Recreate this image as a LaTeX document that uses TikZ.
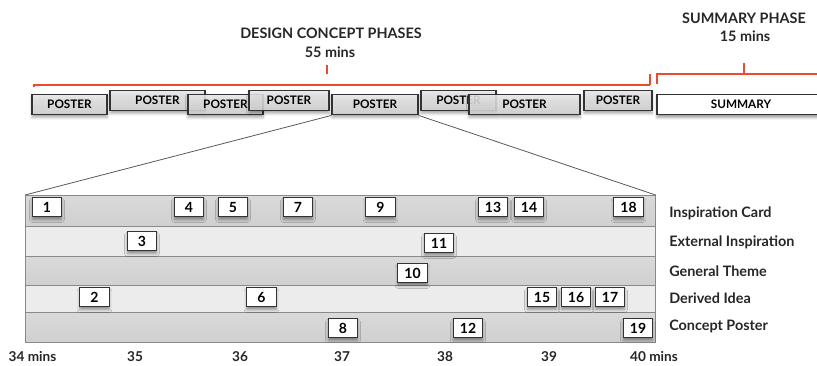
\documentclass[tikz,border=0pt]{standalone}
\usepackage{fontspec}
\setmainfont{Lato}
\usetikzlibrary{shadows,shadows.blur}
\definecolor{bracketred}{HTML}{EC4A2E}
\definecolor{boxline}{HTML}{333333}
\definecolor{rowdark}{HTML}{D0D0D0}
\definecolor{rowlight}{HTML}{ECECEC}
\definecolor{panelline}{HTML}{8A8A8A}
\tikzset{
  bracket/.style={draw=bracketred, line width=1.5pt},
  posterbox/.style={draw=boxline, line width=0.9pt, top color=white!93!black, bottom color=white!84!black,
    fill opacity=0.85, text opacity=1, minimum height=15.5pt, inner sep=0pt,
    font=\bfseries\fontsize{8.8}{10}\selectfont, blur shadow={shadow xshift=0pt, shadow yshift=-2pt, shadow blur steps=5, shadow opacity=40}},
  summarybox/.style={draw=boxline, line width=0.9pt, fill=white, minimum height=15.5pt, inner sep=0pt,
    font=\bfseries\fontsize{8.8}{10}\selectfont, blur shadow={shadow xshift=0pt, shadow yshift=-2pt, shadow blur steps=5, shadow opacity=40}},
  numbox/.style={draw=boxline, line width=0.9pt, fill=white, minimum width=22pt, minimum height=14pt, inner sep=0pt,
    font=\bfseries\fontsize{10.5}{11}\selectfont, blur shadow={shadow xshift=0pt, shadow yshift=-2.5pt, shadow blur steps=5, shadow opacity=40}},
  rowdk/.style={draw=panelline, line width=0.5pt, top color=rowdark!80!white, bottom color=rowdark, minimum width=472.5pt, inner sep=0pt, anchor=north west},
  rowlt/.style={draw=panelline, line width=0.5pt, fill=rowlight, minimum width=472.5pt, inner sep=0pt, anchor=north west},
  rowlabel/.style={anchor=west, inner sep=0pt, font=\bfseries\fontsize{10.8}{12}\selectfont, text=black!85},
  timelabel/.style={inner sep=0pt, font=\bfseries\fontsize{10.2}{12}\selectfont, text=black!85},
  title/.style={inner sep=0pt, font=\bfseries\fontsize{10.8}{12}\selectfont, text=black!85},
  zoomline/.style={draw=black!65, line width=0.6pt},
}
\begin{document}
\begin{tikzpicture}[x=0.75pt, y=-0.75pt]
\useasboundingbox (0,0) rectangle (817,365);
% titles
\node[title] (t1) at (331,33.5) {DESIGN CONCEPT PHASES};
\node[title] (t1b) at (330,52) {55 mins};
\node[title] (t2) at (744,18) {SUMMARY PHASE};
\node[title] (t2b) at (745,36) {15 mins};
% brackets
\coordinate (bl) at (34,87);
\coordinate (br) at (650,85);
\coordinate (bm) at (327,65);
\draw[bracket] (bl) |- (br);
\draw[bracket] (br) -- (650,74);
\draw[bracket] (bm) -- (327,74);
\coordinate (sl) at (657,84);
\coordinate (sr) at (820,74);
\coordinate (sm) at (744,63);
\draw[bracket] (sl) |- (sr);
\draw[bracket] (sm) -- (744,74);
% poster boxes
\node[posterbox, minimum width=56.25pt] (p1) at (69.5,104.5) {POSTER};
\node[posterbox, minimum width=71.25pt] (p2) at (157.5,100.5) {POSTER};
\node[posterbox, minimum width=56.25pt] (p3) at (225.5,104.5) {POSTER};
\node[posterbox, minimum width=60pt] (p4) at (289,100.5) {POSTER};
\node[posterbox, minimum width=64.5pt] (p5) at (375,104.5) {POSTER};
\node[posterbox, minimum width=56.25pt] (p6) at (458.5,100.5) {POSTER};
\node[posterbox, minimum width=83.25pt] (p7) at (524.5,104.5) {POSTER};
\node[posterbox, minimum width=51pt] (p8) at (618,100.5) {POSTER};
\node[summarybox, minimum width=126pt] (sum) at (741,104.5) {SUMMARY};
% panel rows
\node[rowdk, minimum height=23.25pt] (r1) at (25,195) {};
\node[rowlt, minimum height=22.5pt] (r2) at (25,226) {};
\node[rowdk, minimum height=21.75pt] (r3) at (25,256) {};
\node[rowlt, minimum height=20.25pt] (r4) at (25,285) {};
\node[rowdk, minimum height=22.5pt] (r5) at (25,312) {};
% zoom lines
\draw[zoomline] (p5.south west) -- (r1.north west);
\draw[zoomline] (p5.south east) -- (r1.north east);
% number boxes
\node[numbox] (n1) at (47,207) {1};
\node[numbox] (n4) at (189,207) {4};
\node[numbox] (n5) at (233,207) {5};
\node[numbox] (n7) at (298,207) {7};
\node[numbox] (n9) at (380.5,207) {9};
\node[numbox] (n13) at (493,207) {13};
\node[numbox] (n14) at (529,207) {14};
\node[numbox] (n18) at (628.5,207) {18};
\node[numbox] (n3) at (142,241) {3};
\node[numbox] (n11) at (439,243) {11};
\node[numbox] (n10) at (412.5,273) {10};
\node[numbox] (n2) at (94.5,297) {2};
\node[numbox] (n6) at (261.5,297) {6};
\node[numbox] (n15) at (542,297) {15};
\node[numbox] (n16) at (576,297) {16};
\node[numbox] (n17) at (610,297) {17};
\node[numbox] (n8) at (343,328) {8};
\node[numbox] (n12) at (468,328) {12};
\node[numbox] (n19) at (638,328) {19};
% row labels
\node[rowlabel] (l1) at (669,213) {Inspiration Card};
\node[rowlabel] (l2) at (669,242) {External Inspiration};
\node[rowlabel] (l3) at (669,271) {General Theme};
\node[rowlabel] (l4) at (669,298.5) {Derived Idea};
\node[rowlabel] (l5) at (669,326) {Concept Poster};
% time labels
\node[timelabel] (m34) at (32.5,357) {34 mins};
\node[timelabel] (m35) at (135,357) {35};
\node[timelabel] (m36) at (240,357) {36};
\node[timelabel] (m37) at (342,357) {37};
\node[timelabel] (m38) at (445,357) {38};
\node[timelabel] (m39) at (549,357) {39};
\node[timelabel] (m40) at (654,357) {40 mins};
\end{tikzpicture}
\end{document}
